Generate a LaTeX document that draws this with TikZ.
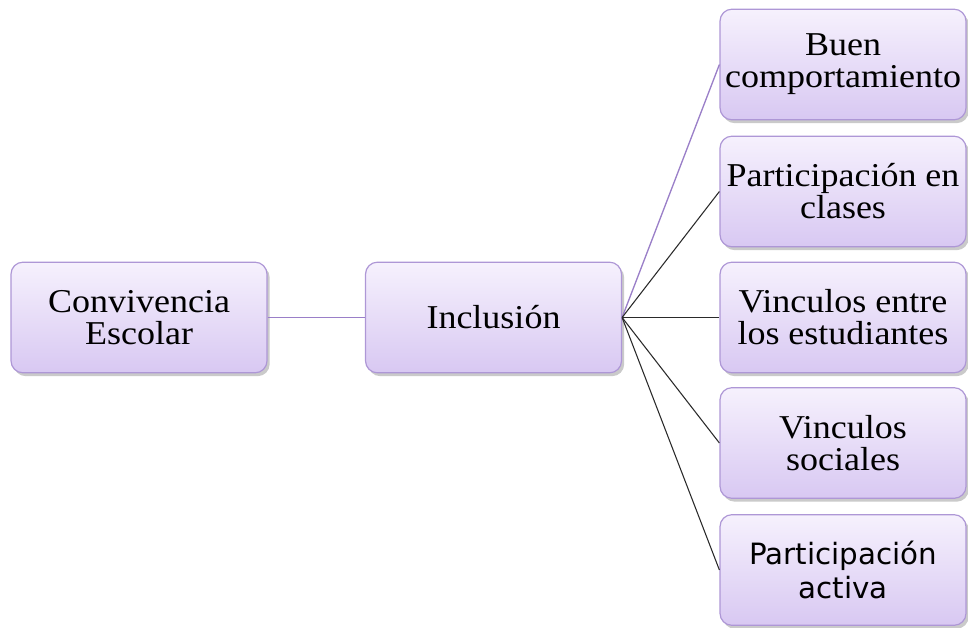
\documentclass[tikz,border=0pt]{standalone}
\usepackage{fontspec}
\setmainfont{Liberation Serif}[FakeStretch=1.08]
\newfontfamily\actfont{DejaVu Sans}
\usetikzlibrary{shadows}
\definecolor{boxtop}{HTML}{F6F1FD}
\definecolor{boxbot}{HTML}{D8C8F2}
\definecolor{boxline}{HTML}{AE97D6}
\definecolor{linkpurple}{HTML}{9A7FC8}
\definecolor{linkdark}{HTML}{2A2A2A}
\tikzset{
  boxnode/.style={draw=boxline, line width=0.9pt, rounded corners=9pt,
    top color=boxtop, bottom color=boxbot, align=center, inner sep=2pt,
    text=black, font=\fontsize{25}{24}\selectfont,
    drop shadow={shadow xshift=2pt, shadow yshift=-2.5pt, opacity=0.35, fill=black!60}},
  leftbox/.style={boxnode, minimum width=192pt, minimum height=83pt},
  rightbox/.style={boxnode, minimum width=184.5pt, minimum height=83pt},
  plink/.style={draw=linkpurple, line width=1pt},
  dlink/.style={draw=linkdark, line width=0.8pt}
}
\begin{document}
\begin{tikzpicture}[x=0.75pt, y=-0.75pt]
\useasboundingbox (0,0) rectangle (968,628);
\node[leftbox] (conv) at (139,317.5) {Convivencia\\Escolar};
\node[leftbox] (inc) at (493.5,317.5) {Inclusión};
\node[rightbox] (r1) at (843,64.5) {Buen\\comportamiento};
\node[rightbox] (r2) at (843,191.5) {Participación en\\clases};
\node[rightbox] (r3) at (843,317.5) {Vinculos entre\\los estudiantes};
\node[rightbox] (r4) at (843,443) {Vinculos\\sociales};
\node[rightbox, font=\actfont\fontsize{22}{25}\selectfont] (r5) at (843,570) {Participación\\activa};
\draw[plink] (conv.east) -- (inc.west);
\draw[plink] (inc.east) -- (r1.west);
\draw[dlink] (inc.east) -- (r2.west);
\draw[dlink] (inc.east) -- (r3.west);
\draw[dlink] (inc.east) -- (r4.west);
\draw[dlink] (inc.east) -- (r5.west);
\end{tikzpicture}
\end{document}
